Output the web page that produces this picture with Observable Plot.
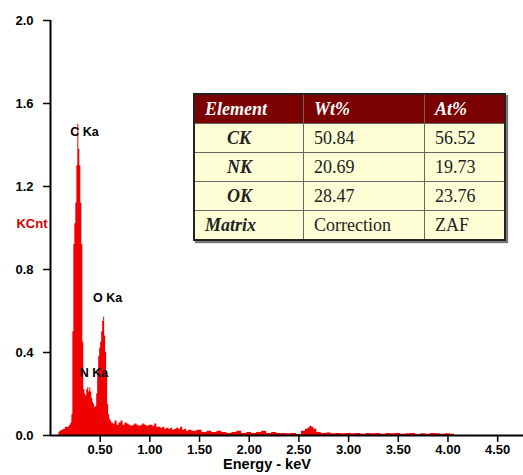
<!DOCTYPE html>
<html><head><meta charset="utf-8">
<script src="https://cdn.jsdelivr.net/npm/d3@7"></script>
<script src="https://cdn.jsdelivr.net/npm/@observablehq/plot@0.6"></script>
<style>
body{margin:0;background:#fff;}
#wrap{position:relative;width:523px;height:475px;}
table{position:absolute;left:193px;top:93px;border-collapse:collapse;font-family:"Liberation Serif","Times New Roman",serif;font-size:18px;border:2px solid #222;box-shadow:2px 2px 1px #777;}
td,th{height:28px;padding:0 0 0 10px;text-align:left;border:1px solid #666;white-space:nowrap;}
th{background:#7b0000;color:#fff;font-weight:bold;font-style:italic;}
td{background:#ffffd6;color:#222;}
td.el{font-weight:bold;font-style:italic;padding-left:32px}
td.mx{font-weight:bold;font-style:italic;padding-left:10px}
</style></head>
<body><div id="wrap"></div>
<script>
const energy = [0.08,0.09,0.10,0.12,0.14,0.16,0.18,0.20,0.21,0.22,0.23,0.24,0.25,0.26,0.27,0.28,0.29,0.30,0.31,0.32,0.33,0.34,
0.35,0.36,0.37,0.38,0.39,0.40,0.41,0.42,0.43,0.44,0.45,0.46,0.47,0.48,0.49,0.50,0.51,0.52,0.53,0.54,0.55,0.56,0.57,0.58,0.59,0.60,0.61,
0.62,0.64,0.66,0.68,0.70,0.72,0.74,0.76,0.78,0.80,0.82,0.84,0.86,0.88,0.90,0.92,0.94,0.96,0.98,1.00,1.02,1.04,1.06,1.08,1.10,1.12,1.14,1.16,1.18,1.20,1.22,1.24,1.26,1.28,1.30,1.32,1.34,1.36,1.38,1.40,
1.45,1.50,1.55,1.60,1.65,1.70,1.75,1.80,1.85,1.90,1.95,2.00,2.05,2.10,2.15,2.20,2.25,2.30,2.35,2.40,2.45,2.50,2.55,2.58,2.60,2.62,2.64,2.66,2.70,2.75,
2.80,2.85,2.90,2.95,3.00,3.05,3.10,3.15,3.20,3.25,3.30,3.35,3.40,3.45,3.50,3.55,3.60,3.65,3.70,3.75,3.80,3.85,3.90,3.95,4.00,4.05,4.08];
const counts = [0,0.015,0.02,0.025,0.03,0.04,0.04,0.05,0.06,0.10,0.50,0.92,1.02,1.12,1.30,1.50,1.38,1.30,1.12,0.92,0.45,0.22,
0.20,0.19,0.22,0.23,0.21,0.23,0.21,0.18,0.16,0.15,0.135,0.14,0.20,0.30,0.38,0.42,0.45,0.50,0.55,0.57,0.48,0.40,0.30,0.15,0.10,0.08,0.07,
0.06,0.055,0.07,0.05,0.06,0.07,0.05,0.06,0.055,0.05,0.045,0.05,0.055,0.05,0.045,0.05,0.055,0.05,0.045,0.05,0.05,0.045,0.055,0.04,0.04,0.035,0.04,0.03,0.035,0.03,0.035,0.025,0.03,0.035,0.03,0.04,0.025,0.03,0.02,0.025,
0.02,0.025,0.015,0.02,0.015,0.02,0.015,0.01,0.015,0.02,0.01,0.015,0.01,0.015,0.02,0.01,0.015,0.01,0.01,0.008,0.01,0.005,0.02,0.03,0.035,0.045,0.04,0.03,0.015,0.01,
0.012,0.008,0.01,0.008,0.01,0.008,0.01,0.006,0.01,0.008,0.01,0.006,0.01,0.008,0.01,0.006,0.008,0.01,0.005,0.008,0.006,0.01,0.008,0.006,0.008,0.006,0];
const xTicks = [0.5,1,1.5,2,2.5,3,3.5,4,4.5];
const yTicks = [0,0.4,0.8,1.2,1.6,2.0];
const peakNames = ["C Ka","N Ka","O Ka"];
const peakEnergy = [0.342,0.438,0.574];
const peakCount = [1.465,0.299,0.665];
const tableHeader = ["Element","Wt%","At%"];
const elements = ["CK","NK","OK","Matrix"];
const wtPct = ["50.84","20.69","28.47","Correction"];
const atPct = ["56.52","19.73","23.76","ZAF"];

const spectrum = energy.map((e,i)=>({e, c: counts[i]}));
const chart = Plot.plot({
  width:523, height:475, marginLeft:50, marginRight:0, marginTop:20, marginBottom:40,
  style:{fontFamily:"'Liberation Sans',Arial,sans-serif", fontSize:"13px", fontWeight:"bold", color:"#000", background:"#fff"},
  x:{domain:[0,4.76]},
  y:{domain:[0,2]},
  marks:[
    Plot.areaY(spectrum,{x:"e", y:"c", fill:"#f00000", curve:"step"}),
    Plot.axisX({ticks:xTicks, tickFormat:d3.format(".2f"), tickSize:7, tickPadding:2, strokeWidth:1.5, label:null, fontSize:13, fontWeight:"bold"}),
    Plot.axisY({ticks:yTicks, tickFormat:d3.format(".1f"), tickSize:7, tickPadding:10, strokeWidth:1.5, label:null, fontSize:13, fontWeight:"bold"}),
    Plot.ruleY([0],{strokeWidth:2}),
    Plot.ruleX([0],{strokeWidth:2}),
    Plot.text(peakNames,{x:(d,i)=>peakEnergy[i], y:(d,i)=>peakCount[i], text:d=>d, fontSize:12.5, fontWeight:"bold", fill:"#000"}),
    Plot.text(["KCnt"],{frameAnchor:"left", textAnchor:"end", dx:-3, dy:-4, fill:"#d00000", fontSize:13, fontWeight:"bold"}),
    Plot.text(["Energy - keV"],{frameAnchor:"bottom", dx:-20, dy:33, fontSize:14.5, fontWeight:"bold"})
  ]
});
const wrap = document.getElementById("wrap");
wrap.appendChild(chart);

const table = document.createElement("table");
const colW = [109,121,80];
const hr = document.createElement("tr");
tableHeader.forEach((h,i)=>{const th=document.createElement("th");th.textContent=h;th.style.width=(colW[i]-11)+"px";hr.appendChild(th);});
table.appendChild(hr);
elements.forEach((el,i)=>{
  const tr=document.createElement("tr");
  const a=document.createElement("td");a.textContent=el;a.className=(el==="Matrix")?"mx":"el";tr.appendChild(a);
  const b=document.createElement("td");b.textContent=wtPct[i];tr.appendChild(b);
  const c=document.createElement("td");c.textContent=atPct[i];tr.appendChild(c);
  table.appendChild(tr);
});
wrap.appendChild(table);
</script>
</body></html>
